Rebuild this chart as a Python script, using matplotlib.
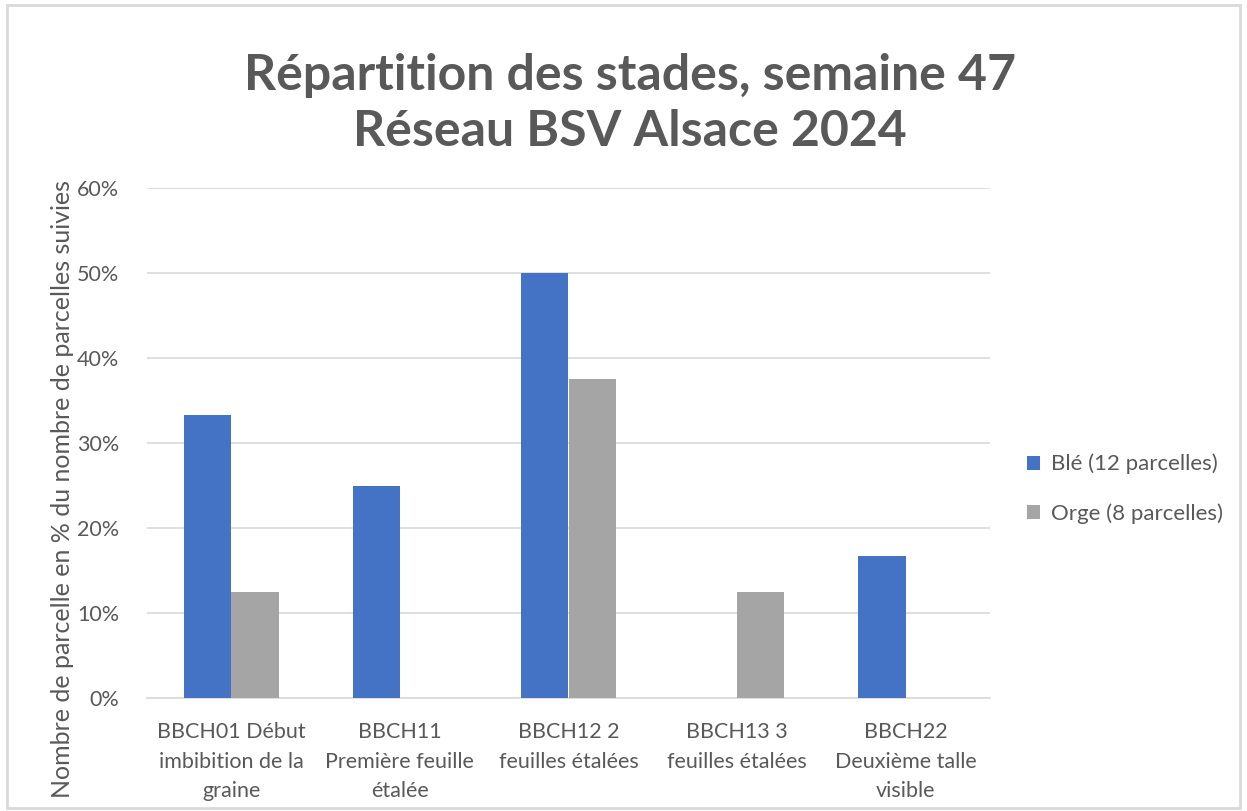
import matplotlib.pyplot as plt
import numpy as np
from matplotlib.patches import Rectangle
from matplotlib.ticker import PercentFormatter

# stades BBCH observés
stades = ['BBCH01 Début\nimbibition de la\ngraine',
          'BBCH11\nPremière feuille\nétalée',
          'BBCH12 2\nfeuilles étalées',
          'BBCH13 3\nfeuilles étalées',
          'BBCH22\nDeuxième talle\nvisible']
ble = [4 / 12, 3 / 12, 6 / 12, 0, 2 / 12]
orge = [1 / 8, 0, 3 / 8, 1 / 8, 0]
series = ['Blé (12 parcelles)', 'Orge (8 parcelles)']
couleurs = ['#4472C4', '#A5A5A5']

plt.rcParams['font.family'] = ['Lato', 'DejaVu Sans']
txt = '#595959'

fig = plt.figure(figsize=(12.47, 8.11), dpi=100)
fig.patches.append(Rectangle((7 / 1247, 3 / 811), 1 - 14 / 1247, 1 - 8 / 811,
                             transform=fig.transFigure, fill=False,
                             edgecolor='#D9D9D9', linewidth=2))
ax = fig.add_axes([147 / 1247, 1 - 698 / 811, (990 - 147) / 1247, (698 - 188) / 811])

x = np.arange(len(stades))
w = 0.28
ax.bar(x - w / 2, ble, w, color=couleurs[0], label=series[0], zorder=3)
ax.bar(x + w / 2, orge, w, color=couleurs[1], label=series[1], zorder=3)

ax.set_xlim(-0.5, len(stades) - 0.5)
ax.set_ylim(0, 0.6)
ax.set_yticks(np.arange(0, 0.61, 0.1))
ax.yaxis.set_major_formatter(PercentFormatter(1.0, decimals=0))
ax.grid(axis='y', color='#D9D9D9', linewidth=1.2, zorder=0)
for s in ['top', 'right', 'left']:
    ax.spines[s].set_visible(False)
ax.spines['bottom'].set_color('#D9D9D9')
ax.spines['bottom'].set_linewidth(1.2)
ax.tick_params(length=0, labelsize=15.5, labelcolor=txt)
ax.tick_params(axis='y', pad=20)
ax.tick_params(axis='x', pad=17)
ax.set_xticks(x)
ax.set_xticklabels(stades, linespacing=1.62)

ax.set_ylabel('Nombre de parcelle en % du nombre de parcelles suivies',
              fontsize=18, color=txt)
ax.yaxis.set_label_coords(-0.087, 0.41)

fig.text(0.505, 0.872, 'Répartition des stades, semaine 47\nRéseau BSV Alsace 2024',
         ha='center', va='center', fontsize=36, fontweight='bold', color=txt,
         linespacing=1.3)

ax.legend(loc='center left', bbox_to_anchor=(1.02, 0.41), frameon=False,
          fontsize=16, labelcolor=txt, handlelength=0.6, handleheight=0.6,
          handletextpad=0.5, labelspacing=1.3)

fig.savefig('out.png', dpi=100)
